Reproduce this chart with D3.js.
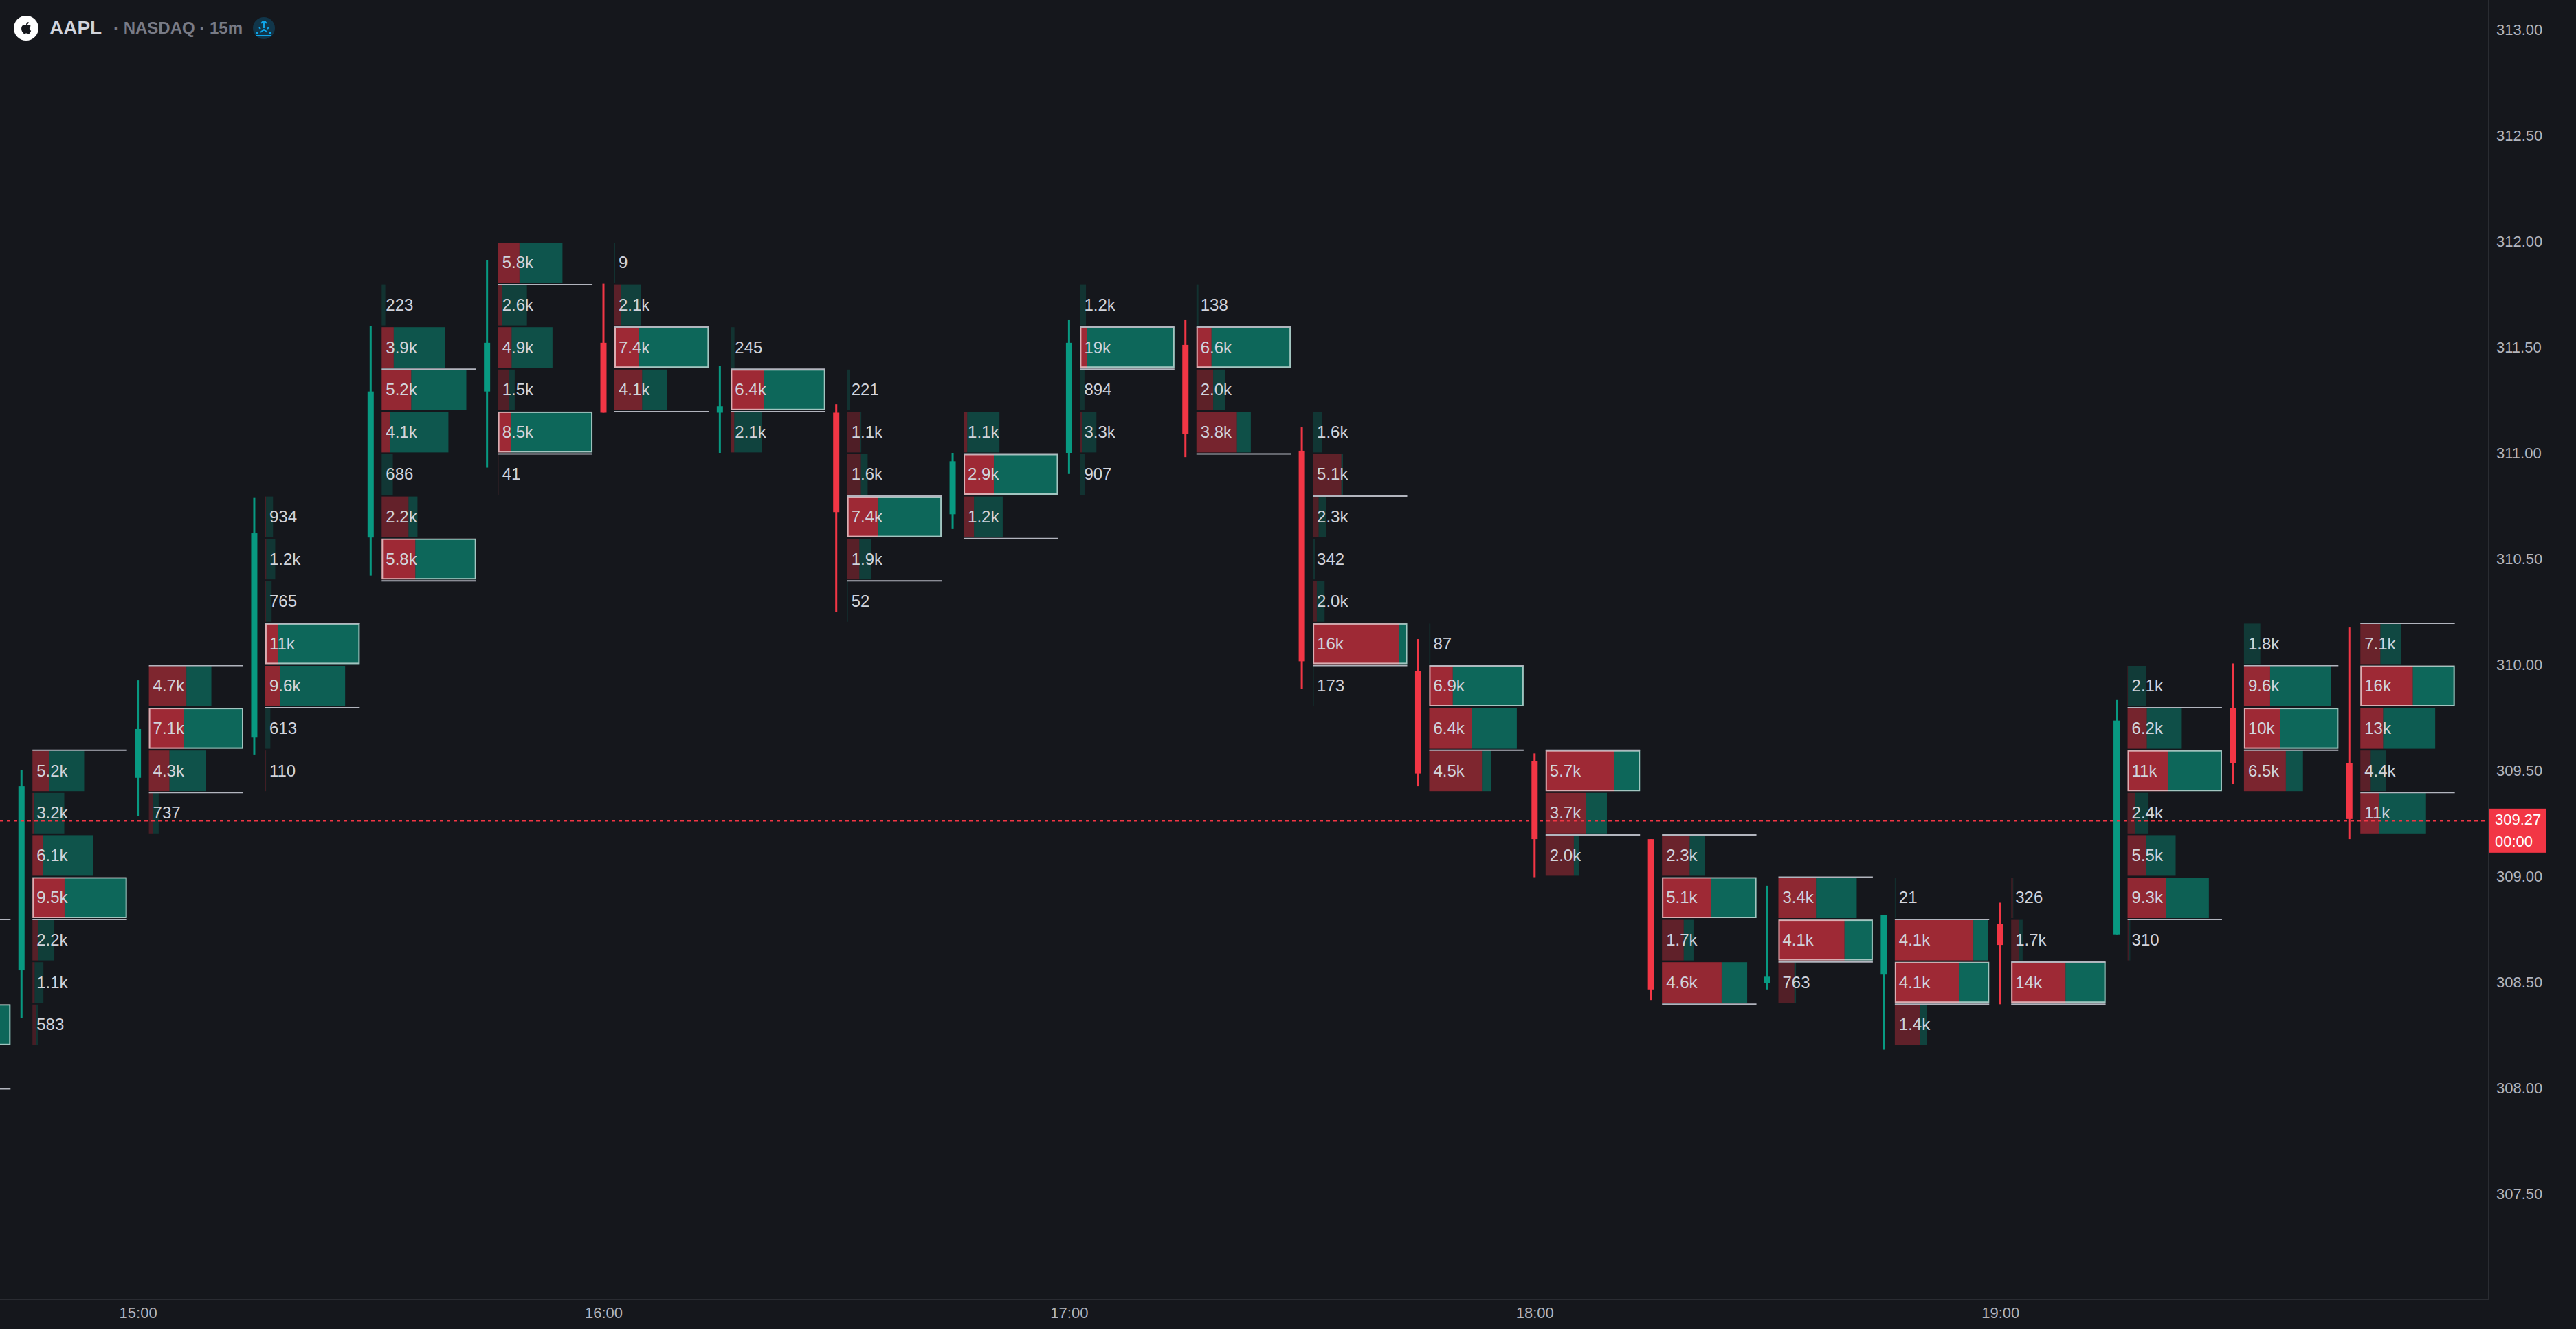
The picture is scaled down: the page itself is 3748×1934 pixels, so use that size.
<!DOCTYPE html>
<html>
<head>
<meta charset="utf-8">
<style>
html,body{margin:0;padding:0;background:#15171c;overflow:hidden}
svg{display:block}
text{font-family:"Liberation Sans",Arial,sans-serif}
</style>
<script src="https://cdnjs.cloudflare.com/ajax/libs/d3/7.8.5/d3.min.js"></script>
</head>
<body>
<div id="plot"></div>
<script>
// AAPL 15m footprint, one entry per bar. first bar is cut off by the left edge
var barTimes = ['14:30','14:45','15:00','15:15','15:30','15:45','16:00','16:15','16:30','16:45','17:00',
	'17:15','17:30','17:45','18:00','18:15','18:30','18:45','19:00','19:15','19:30','19:45'];

var candleOpen  = [null,308.555,309.465,309.655,310.60,311.29,311.52,311.19,311.19,310.71,311.00,311.51,311.01,309.97,309.545,309.175,308.495,308.535,308.775,308.725,309.795,309.535];
var candleHigh  = [null,309.50,309.925,310.79,311.60,311.91,311.80,311.41,311.23,311.00,311.63,311.63,311.12,310.12,309.58,309.175,308.955,308.815,308.875,309.835,310.005,310.175];
var candleLow   = [null,308.33,309.285,309.575,310.42,310.93,311.19,311.00,310.25,310.64,310.90,310.98,309.885,309.425,308.995,308.415,308.465,308.18,308.395,308.725,309.435,309.175];
var candleClose = [null,309.425,309.695,310.62,311.29,311.52,311.19,311.22,310.72,310.96,311.52,311.09,310.015,309.485,309.175,308.465,308.525,308.815,308.675,309.735,309.535,309.27];

// lower price of the top row in each bar
var topLevel = [308.2,309.4,309.8,310.6,311.6,311.8,311.8,311.4,311.2,311.0,311.6,311.6,311.0,310.0,309.4,309.0,308.8,308.8,308.8,309.8,310.0,310.0];

// volume per 0.20 row, top row first
var rowVolume = [
	[8000],
	[5200,3200,6100,9500,2200,1100,583],
	[4700,7100,4300,737],
	[934,1200,765,11350,9600,613,110],
	[223,3900,5200,4100,686,2200,5800],
	[5800,2600,4900,1500,8500,41],
	[9,2100,7400,4100],
	[245,6400,2100],
	[221,1100,1600,7400,1900,52],
	[1100,2900,1200],
	[1200,19000,894,3300,907],
	[138,6600,2000,3800],
	[1600,5100,2300,342,2000,16000,173],
	[87,6900,6400,4500],
	[5700,3700,2000],
	[2300,5100,1700,4600],
	[3400,4100,763],
	[21,4100,4140,1400],
	[326,1700,14000],
	[2100,6200,10800,2400,5500,9300,310],
	[1800,9600,10400,6500],
	[7100,16400,13000,4400,11400]
];

// share of each row that was sold
var rowSell = [
	[0.3],
	[0.325,0.06,0.17,0.34,0.27,0.2,0.6],
	[0.6,0.367,0.36,0.39],
	[0.1,0.1,0.1,0.133,0.185,0.02,0.8],
	[0,0.19,0.35,0.125,0,0.75,0.357],
	[0.333,0.13,0.25,0.68,0.135,0.8],
	[0,0.25,0.257,0.53],
	[0,0.347,0.11],
	[0,0.95,0.67,0.33,0.5,0],
	[0.1,0.32,0.265],
	[0,0.07,0,0.14,0],
	[0,0.16,0.585,0.745],
	[0.05,0.95,0.43,0.2,0.34,0.913,0.5],
	[0,0.25,0.487,0.857],
	[0.723,0.66,0.853],
	[0.65,0.52,0.69,0.70],
	[0.48,0.70,0.91],
	[0,0.84,0.685,0.79],
	[0.8,0.69,0.576],
	[0.02,0.356,0.43,0.355,0.39,0.47,0.5],
	[0,0.30,0.386,0.71],
	[0.49,0.556,0.305,0.41,0.286]
];

// value area edges
var vaHigh = [308.8,309.6,310.0,310.2,311.4,311.8,311.6,311.4,310.8,311.0,311.6,311.6,310.8,310.0,309.6,309.2,309.0,308.8,308.6,309.8,310.0,310.2];
var vaLow  = [308.0,308.8,309.4,309.8,310.4,311.0,311.2,311.2,310.4,310.6,311.4,311.0,310.0,309.6,309.2,308.4,308.6,308.4,308.4,308.8,309.6,309.4];

var priceTicks = [313,312.5,312,311.5,311,310.5,310,309.5,309,308.5,308,307.5];
var timeTicks = ['15:00','16:00','17:00','18:00','19:00'];
var lastPrice = 309.27;
var lastLabel = ['309.27','00:00'];

var W = 3748, H = 1934,
	axisX = 3621, axisY = 1891,
	rowStep = 0.2, rowOffset = 16, rowMax = 137.4;

var red = '#f23645', green = '#089981';

var parseT = d3.timeParse('%H:%M');
var scaleX = d3.scaleTime().domain([parseT('15:00'),parseT('19:00')]).range([200.6,2910.2]);
var scaleY = d3.scaleLinear().domain([313,307.5]).range([43,1737]);

var svg = d3.select('#plot').append('svg').attr('width',W).attr('height',H);
svg.append('rect').attr('width',W).attr('height',H).attr('fill','#15171c');

function fmtVol(v){
	if(v<1000) return ''+v;
	if(v<10000) return (v/1000).toFixed(1)+'k';
	return Math.round(v/1000)+'k';
}

// one record per row
var rows = [];
barTimes.forEach(function(t,i){
	var maxV = d3.max(rowVolume[i]),
		scaleW = d3.scaleLinear().domain([0,maxV]).range([0,rowMax]),
		x0 = scaleX(parseT(t))+rowOffset;
	rowVolume[i].forEach(function(v,j){
		rows.push({
			x:x0,
			low:topLevel[i]-j*rowStep,
			w:Math.max(scaleW(v),1),
			sell:rowSell[i][j],
			ratio:v/maxV,
			poc:v==maxV,
			label:fmtVol(v)
		});
	});
});

var plot = svg.append('g');

function rowAlpha(d){ return 0.2+0.42*d.ratio }

plot.selectAll('.sellRow').data(rows).enter().append('rect')
	.attr('class','sellRow')
	.attr('x',function(d){return d.x})
	.attr('y',function(d){return scaleY(d.low+rowStep)+2})
	.attr('width',function(d){return d.w*d.sell})
	.attr('height',59)
	.attr('fill',red)
	.attr('fill-opacity',rowAlpha);

plot.selectAll('.buyRow').data(rows).enter().append('rect')
	.attr('class','buyRow')
	.attr('x',function(d){return d.x+d.w*d.sell})
	.attr('y',function(d){return scaleY(d.low+rowStep)+2})
	.attr('width',function(d){return d.w*(1-d.sell)})
	.attr('height',59)
	.attr('fill',green)
	.attr('fill-opacity',rowAlpha);

// biggest row in each bar gets the outline
plot.selectAll('.poc').data(rows.filter(function(d){return d.poc})).enter().append('rect')
	.attr('class','poc')
	.attr('x',function(d){return d.x+1})
	.attr('y',function(d){return scaleY(d.low+rowStep)+2.5})
	.attr('width',function(d){return d.w-2})
	.attr('height',57.5)
	.attr('fill','none')
	.attr('stroke','#fff')
	.attr('stroke-opacity',0.62)
	.attr('stroke-width',2);

// value area lines
var vaLines = [];
barTimes.forEach(function(t,i){
	var x0 = scaleX(parseT(t))+rowOffset;
	vaLines.push({x:x0,p:vaHigh[i]});
	vaLines.push({x:x0,p:vaLow[i]});
});
plot.selectAll('.va').data(vaLines).enter().append('line')
	.attr('class','va')
	.attr('x1',function(d){return d.x})
	.attr('x2',function(d){return d.x+rowMax})
	.attr('y1',function(d){return scaleY(d.p)+1.5})
	.attr('y2',function(d){return scaleY(d.p)+1.5})
	.attr('stroke','#b2b5be')
	.attr('stroke-width',2);

// candles
var candles = barTimes.map(function(t,i){
	return {x:scaleX(parseT(t)),o:candleOpen[i],h:candleHigh[i],l:candleLow[i],c:candleClose[i]};
}).filter(function(d){return d.o!==null});

function candleColor(d){ return d.c>=d.o ? green : red }

plot.selectAll('.wick').data(candles).enter().append('rect')
	.attr('class','wick')
	.attr('x',function(d){return d.x-1.5})
	.attr('width',3)
	.attr('y',function(d){return scaleY(d.h)})
	.attr('height',function(d){return scaleY(d.l)-scaleY(d.h)})
	.attr('fill',candleColor);

plot.selectAll('.body').data(candles).enter().append('rect')
	.attr('class','body')
	.attr('x',function(d){return d.x-4.5})
	.attr('width',9)
	.attr('y',function(d){return scaleY(Math.max(d.o,d.c))})
	.attr('height',function(d){return scaleY(Math.min(d.o,d.c))-scaleY(Math.max(d.o,d.c))})
	.attr('fill',candleColor);

// row labels
plot.selectAll('.rowLabel').data(rows.filter(function(d){return d.x>0})).enter().append('text')
	.attr('class','rowLabel')
	.attr('x',function(d){return d.x+6})
	.attr('y',function(d){return scaleY(d.low+rowStep/2)+8.5})
	.attr('font-size',24)
	.attr('fill','#d1d4dc')
	.text(function(d){return d.label});

// axes
var axisRight = d3.axisRight(scaleY).tickValues(priceTicks).tickFormat(d3.format('.2f')).tickSize(0).tickPadding(11);
var gy = svg.append('g').attr('transform','translate('+axisX+',0)').call(axisRight);
gy.select('.domain').remove();

var axisBottom = d3.axisBottom(scaleX).tickValues(timeTicks.map(parseT)).tickFormat(d3.timeFormat('%H:%M')).tickSize(0).tickPadding(11);
var gx = svg.append('g').attr('transform','translate(0,'+axisY+')').call(axisBottom);
gx.select('.domain').remove();

svg.selectAll('.tick text')
	.style('font-family','"Liberation Sans",Arial,sans-serif')
	.style('font-size','22px')
	.attr('fill','#b2b5be');

svg.append('line').attr('x1',axisX).attr('x2',axisX).attr('y1',0).attr('y2',axisY)
	.attr('stroke','#2a2c32').attr('stroke-width',2);
svg.append('line').attr('x1',0).attr('x2',axisX).attr('y1',axisY).attr('y2',axisY)
	.attr('stroke','#2a2c32').attr('stroke-width',2);

// last price, the line sits a little under the label centre in the original
svg.append('line')
	.attr('x1',0).attr('x2',axisX-4)
	.attr('y1',scaleY(lastPrice)+3).attr('y2',scaleY(lastPrice)+3)
	.attr('stroke',red).attr('stroke-width',1.5)
	.attr('stroke-dasharray','5,5');

svg.append('rect').attr('x',axisX+1).attr('y',scaleY(lastPrice)-15).attr('width',83).attr('height',64).attr('fill',red);
svg.selectAll('.lastLabel').data(lastLabel).enter().append('text')
	.attr('class','lastLabel')
	.attr('x',axisX+9)
	.attr('y',function(d,i){return scaleY(lastPrice)+8+i*32})
	.attr('font-size',22)
	.attr('fill','#fff')
	.text(function(d){return d});

// header
var head = svg.append('g');
head.append('circle').attr('cx',38).attr('cy',41).attr('r',18).attr('fill','#fff');
head.append('path')
	.attr('transform','translate(29.5,32) scale(0.72)')
	.attr('fill','#15171c')
	.attr('d','M12.152 6.896c-.948 0-2.415-1.078-3.96-1.04-2.04.027-3.91 1.183-4.961 3.014-2.117 3.675-.546 9.103 1.519 12.09 1.013 1.454 2.208 3.09 3.792 3.039 1.52-.065 2.09-.987 3.935-.987 1.831 0 2.35.987 3.96.948 1.637-.026 2.676-1.48 3.676-2.948 1.156-1.688 1.636-3.325 1.662-3.415-.039-.013-3.182-1.221-3.22-4.857-.026-3.04 2.48-4.494 2.597-4.559-1.429-2.09-3.623-2.324-4.39-2.376-2-.156-3.675 1.09-4.61 1.09zM15.53 3.83c.843-1.012 1.4-2.427 1.245-3.83-1.207.052-2.662.805-3.532 1.818-.78.896-1.454 2.338-1.273 3.714 1.338.104 2.715-.688 3.559-1.701');
head.append('text').attr('x',72).attr('y',50).attr('font-size',28).attr('font-weight','bold').attr('fill','#d1d4dc').text('AAPL');
head.append('text').attr('x',165).attr('y',49).attr('font-size',24).attr('font-weight','bold').attr('fill','#787b86').text('· NASDAQ · 15m');

head.append('circle').attr('cx',384).attr('cy',41).attr('r',16).attr('fill','#11364a');
head.append('path')
	.attr('fill','none').attr('stroke','#0ea5e9').attr('stroke-width',2)
	.attr('d','M384 31V41M380 34Q384 28 388 34M379 47L384 43L389 47M377 40L379 42M391 40L389 42M373 48H376M392 48H395M373 52H395');
</script>
</body>
</html>
